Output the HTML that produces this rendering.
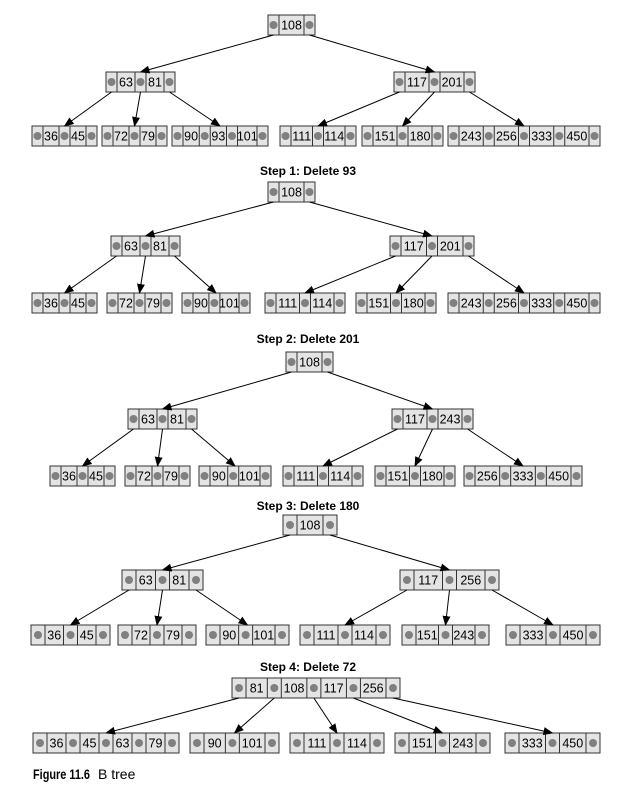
<!DOCTYPE html>
<html><head><meta charset="utf-8"><style>
body{margin:0;background:#fff;}
svg{display:block;font-family:"Liberation Sans",sans-serif;}
</style></head><body>
<svg id="s" width="617" height="786" xmlns="http://www.w3.org/2000/svg">
<defs><marker id="a" markerWidth="10" markerHeight="8" refX="9" refY="4" orient="auto" markerUnits="userSpaceOnUse"><path d="M0,0 L10,4 L0,8 z" fill="#000"/></marker></defs>
<text x="308" y="175" text-anchor="middle" font-weight="bold" font-size="12">Step 1: Delete 93</text>
<text x="308" y="343" text-anchor="middle" font-weight="bold" font-size="12">Step 2: Delete 201</text>
<text x="308" y="510" text-anchor="middle" font-weight="bold" font-size="12">Step 3: Delete 180</text>
<text x="308" y="671" text-anchor="middle" font-weight="bold" font-size="12">Step 4: Delete 72</text>
<text x="33" y="779" font-weight="bold" font-size="14" textLength="57" lengthAdjust="spacingAndGlyphs">Figure 11.6</text>
<text x="98" y="779" font-size="14">B tree</text>
</svg>
<script>
var S=document.getElementById('s'),NS='http://www.w3.org/2000/svg';
function el(t,a,txt){var e=document.createElementNS(NS,t);for(var k in a)e.setAttribute(k,a[k]);if(txt)e.textContent=txt;S.appendChild(e);return e;}
function node(x,y,w,keys,p){p=p||11;var h=20,n=keys.length;var tot=0;keys.forEach(function(k){tot+=String(k).length+3;});
var rem=w-p*(n+1),cx=x,ptr=[];
el('rect',{x:x,y:y,width:w,height:h,fill:'#e4e4e4',stroke:'#333','stroke-width':1});
for(var i=0;i<=n;i++){ptr.push(cx+p/2);el('circle',{cx:cx+p/2,cy:y+h/2,r:4,fill:'#808080'});cx+=p;
 el('line',{x1:cx,y1:y,x2:cx,y2:y+h,stroke:'#333'});
 if(i<n){var kw=rem*(String(keys[i]).length+3)/tot;el('text',{x:cx+kw/2,y:y+14.5,'text-anchor':'middle','font-size':12.5},String(keys[i]));cx+=kw;
 el('line',{x1:cx,y1:y,x2:cx,y2:y+h,stroke:'#333'});}}
return {ptr:ptr,y:y,cx:x+w/2};}
function edge(par,i,ch){el('line',{x1:par.ptr[i],y1:par.y+20,x2:ch.cx,y2:ch.y,stroke:'#000','stroke-width':1,'marker-end':'url(#a)'});}
function tree(r,l1,lv,p){var R=node(r[0],r[1],r[2],r[3],p);var L=l1.map(function(a){return node(a[0],a[1],a[2],a[3],p);});
L.forEach(function(c,i){edge(R,i,c);});var V=lv.map(function(a){return node(a[0],a[1],a[2],a[3],p);});
var k=0;L.forEach(function(c){for(var i=0;i<c.ptr.length;i++){edge(c,i,V[k++]);}});}
tree([268,15,47,[108]],[[106,72,69,[63,81]],[394,72,81,[117,201]]],
[[32,126,65,[36,45]],[102,126,65,[72,79]],[172,126,96,[90,93,101]],[280,126,76,[111,114]],[362,126,81,[151,180]],[448,126,152,[243,256,333,450]]]);
tree([268,182,47,[108]],[[111,236,69,[63,81]],[390,236,84,[117,201]]],
[[32,293,65,[36,45]],[107,293,65,[72,79]],[182,293,68,[90,101]],[265,293,80,[111,114]],[356,293,80,[151,180]],[448,293,152,[243,256,333,450]]]);
tree([286,352,47,[108]],[[128,409,69,[63,81]],[392,409,81,[117,243]]],
[[50,466,65,[36,45]],[125,466,65,[72,79]],[199,466,72,[90,101]],[283,466,80,[111,114]],[375,466,80,[151,180]],[464,466,118,[256,333,450]]]);
tree([283,515,54,[108]],[[122,570,81,[63,81]],[400,570,99,[117,256]]],
[[31,625,79,[36,45]],[118,625,78,[72,79]],[206,625,83,[90,101]],[300,625,90,[111,114]],[402,625,87,[151,243]],[506,625,94,[333,450]]],14);
(function(){var R=node(232,678,168,[81,108,117,256],14);var V=[[33,733,146,[36,45,63,79]],[190,733,89,[90,101]],[290,733,94,[111,114]],[395,733,95,[151,243]],[505,733,95,[333,450]]].map(function(a){return node(a[0],a[1],a[2],a[3],14);});
V.forEach(function(c,i){edge(R,i,c);});})();
</script>
</body></html>
